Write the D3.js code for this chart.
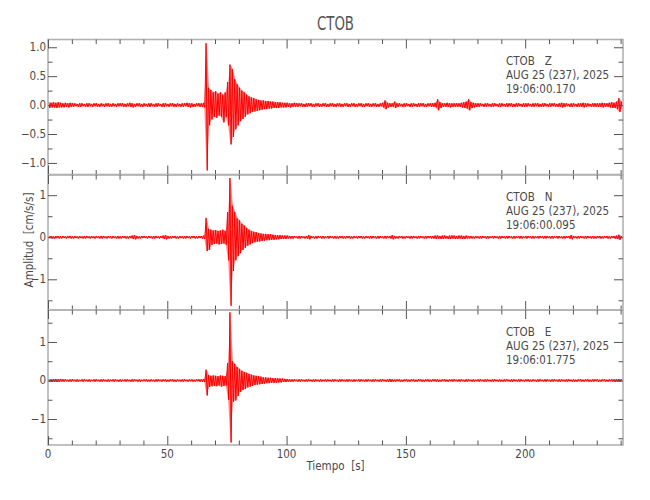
<!DOCTYPE html>
<html>
<head>
<meta charset="utf-8">
<style>
  body { margin: 0; background: #fff; }
  svg text { font-family: "DejaVu Sans Condensed", "DejaVu Sans", sans-serif; font-stretch: condensed; fill: #4a4a4a; white-space: pre; }
</style>
<title>CTOB</title>
</head>
<body>
<script src="https://cdn.jsdelivr.net/npm/d3@7"></script>
<script>

// ===== data (per-second max / min envelope, cm/s/s) =====
const components = ["CTOB   Z", "CTOB   N", "CTOB   E"];
const dateLabel = "AUG 25 (237), 2025";
const startTimes = ["19:06:00.170", "19:06:00.095", "19:06:01.775"];
const xTicks = [0, 50, 100, 150, 200];
const xDomain = [0, 241];
const yDomains = [[-1.2, 1.134], [-1.73, 1.48], [-1.675, 1.83]];
const yTicks = [[-1, -0.5, 0, 0.5, 1], [-1, 0, 1], [-1, 0, 1]];
const yMinorTicks = [[-0.75, -0.25, 0.25, 0.75], [-1.5, -0.5, 0.5], [-1.5, -0.5, 0.5, 1.5]];
const yFormats = [".1f", "d", "d"];

const zHigh = [
  .05,.04,.05,.04,.05,.04,.03,.04,.03,.04, .03,.03,.02,.03,.03,.02,.03,.03,.02,.03,
  .03,.02,.03,.02,.03,.03,.02,.03,.02,.03, .03,.03,.02,.03,.04,.03,.02,.03,.03,.02,
  .03,.02,.03,.03,.02,.03,.03,.02,.03,.03, .02,.03,.03,.02,.03,.02,.03,.03,.04,.03,
  .03,.02,.03,.03,.03,.04,1.07,.30,.26,.22, .24,.20,.22,.18,.22,.40,.70,.62,.45,.36,
  .30,.25,.22,.18,.15,.13,.12,.10,.09,.08, .08,.07,.07,.06,.06,.05,.05,.05,.04,.04,
  .04,.03,.03,.04,.03,.03,.03,.02,.03,.03, .03,.02,.03,.03,.02,.03,.03,.02,.03,.03,
  .02,.03,.03,.02,.03,.03,.02,.03,.03,.02, .03,.03,.02,.03,.03,.02,.03,.03,.02,.03,
  .04,.08,.04,.03,.03,.06,.03,.03,.02,.03, .03,.02,.03,.03,.02,.03,.03,.03,.02,.03,
  .03,.03,.04,.10,.05,.03,.03,.04,.03,.03, .03,.03,.03,.04,.05,.06,.10,.05,.04,.03,
  .03,.03,.02,.03,.03,.02,.03,.03,.02,.03, .03,.02,.03,.03,.03,.02,.03,.03,.02,.03,
  .03,.03,.02,.03,.03,.03,.02,.03,.03,.02, .03,.03,.03,.02,.03,.04,.03,.03,.02,.03,
  .03,.02,.03,.03,.04,.03,.03,.02,.03,.03, .03,.03,.04,.03,.03,.04,.05,.04,.06,.12,
  .06];
const zLow = [
  -.05,-.04,-.04,-.05,-.04,-.04,-.04,-.03,-.04,-.03, -.03,-.02,-.03,-.03,-.02,-.03,-.03,-.02,-.03,-.02,
  -.03,-.03,-.02,-.03,-.02,-.03,-.03,-.02,-.03,-.02, -.02,-.03,-.03,-.02,-.03,-.04,-.03,-.02,-.03,-.03,
  -.02,-.03,-.03,-.02,-.03,-.03,-.02,-.03,-.03,-.02, -.03,-.02,-.03,-.03,-.02,-.03,-.03,-.02,-.03,-.04,
  -.03,-.03,-.02,-.03,-.03,-.04,-1.13,-.35,-.25,-.20, -.22,-.18,-.20,-.30,-.20,-.35,-.68,-.55,-.42,-.35,
  -.28,-.24,-.20,-.16,-.14,-.12,-.11,-.10,-.09,-.08, -.07,-.07,-.06,-.06,-.05,-.05,-.05,-.04,-.04,-.04,
  -.03,-.04,-.03,-.03,-.03,-.02,-.03,-.03,-.03,-.02, -.03,-.03,-.02,-.03,-.03,-.02,-.03,-.03,-.02,-.03,
  -.03,-.02,-.03,-.03,-.02,-.03,-.03,-.02,-.03,-.03, -.02,-.03,-.03,-.02,-.03,-.03,-.02,-.03,-.03,-.02,
  -.04,-.07,-.04,-.03,-.03,-.05,-.03,-.02,-.03,-.03, -.02,-.03,-.03,-.02,-.03,-.03,-.02,-.03,-.03,-.02,
  -.03,-.03,-.04,-.09,-.05,-.03,-.03,-.03,-.04,-.03, -.03,-.03,-.03,-.04,-.05,-.06,-.09,-.05,-.04,-.03,
  -.03,-.02,-.03,-.03,-.02,-.03,-.03,-.02,-.03,-.03, -.02,-.03,-.03,-.02,-.03,-.03,-.03,-.02,-.03,-.03,
  -.03,-.02,-.03,-.03,-.02,-.03,-.03,-.03,-.02,-.03, -.03,-.02,-.03,-.03,-.03,-.04,-.03,-.02,-.03,-.03,
  -.02,-.03,-.03,-.03,-.04,-.03,-.02,-.03,-.03,-.03, -.03,-.03,-.04,-.03,-.03,-.04,-.05,-.05,-.07,-.12,
  -.06];

const nHigh = [
  .03,.03,.02,.03,.03,.02,.03,.02,.03,.03, .02,.03,.02,.03,.02,.03,.03,.02,.03,.02,
  .03,.02,.03,.03,.02,.03,.02,.03,.02,.03, .02,.03,.03,.02,.03,.04,.05,.03,.02,.03,
  .03,.02,.03,.02,.03,.03,.02,.03,.04,.05, .03,.02,.03,.03,.02,.03,.02,.03,.03,.02,
  .03,.03,.02,.03,.03,.04,.46,.20,.18,.16, .17,.15,.16,.18,.15,.60,1.41,.75,.60,.45,
  .40,.32,.28,.22,.18,.15,.13,.12,.10,.09, .08,.08,.07,.07,.06,.05,.05,.05,.04,.04,
  .04,.03,.03,.03,.02,.03,.03,.02,.03,.05, .03,.02,.03,.03,.02,.03,.02,.03,.03,.02,
  .03,.02,.03,.03,.02,.03,.03,.02,.03,.02, .03,.03,.02,.03,.02,.03,.03,.02,.03,.03,
  .02,.03,.03,.03,.05,.03,.02,.03,.03,.02, .03,.02,.03,.03,.02,.03,.03,.02,.03,.03,
  .03,.03,.04,.04,.03,.04,.04,.03,.04,.04, .04,.03,.04,.04,.03,.04,.03,.03,.02,.03,
  .02,.03,.03,.02,.03,.02,.03,.03,.02,.03, .03,.02,.03,.03,.02,.03,.02,.03,.03,.02,
  .03,.03,.02,.03,.02,.03,.03,.02,.03,.03, .02,.03,.02,.03,.03,.02,.03,.03,.03,.05,
  .03,.02,.03,.03,.02,.03,.03,.02,.03,.02, .03,.03,.02,.03,.03,.02,.03,.03,.04,.06,
  .03];
const nLow = [
  -.02,-.03,-.03,-.02,-.03,-.03,-.02,-.03,-.02,-.03, -.03,-.02,-.03,-.02,-.03,-.03,-.02,-.03,-.02,-.03,
  -.02,-.03,-.03,-.02,-.03,-.02,-.03,-.02,-.03,-.03, -.03,-.02,-.03,-.03,-.02,-.04,-.05,-.03,-.03,-.02,
  -.02,-.03,-.02,-.03,-.03,-.02,-.03,-.02,-.04,-.05, -.03,-.03,-.02,-.03,-.03,-.02,-.03,-.03,-.02,-.03,
  -.02,-.03,-.03,-.02,-.03,-.04,-.33,-.30,-.18,-.16, -.15,-.17,-.16,-.15,-.18,-.55,-1.63,-.80,-.55,-.45,
  -.38,-.30,-.25,-.20,-.17,-.14,-.12,-.11,-.10,-.09, -.08,-.07,-.07,-.06,-.06,-.05,-.05,-.04,-.04,-.04,
  -.03,-.03,-.03,-.02,-.03,-.03,-.02,-.03,-.03,-.05, -.02,-.03,-.03,-.02,-.03,-.03,-.02,-.03,-.02,-.03,
  -.03,-.03,-.02,-.03,-.03,-.02,-.03,-.03,-.02,-.03, -.02,-.03,-.03,-.02,-.03,-.03,-.02,-.03,-.03,-.02,
  -.03,-.03,-.02,-.03,-.05,-.03,-.03,-.02,-.03,-.03, -.02,-.03,-.03,-.02,-.03,-.03,-.02,-.03,-.03,-.02,
  -.03,-.03,-.04,-.03,-.04,-.04,-.03,-.04,-.04,-.03, -.04,-.04,-.03,-.04,-.04,-.03,-.03,-.03,-.03,-.02,
  -.03,-.03,-.02,-.03,-.03,-.02,-.03,-.02,-.03,-.03, -.02,-.03,-.03,-.02,-.03,-.03,-.02,-.03,-.03,-.02,
  -.03,-.02,-.03,-.03,-.02,-.03,-.02,-.03,-.03,-.02, -.03,-.03,-.02,-.03,-.02,-.03,-.03,-.02,-.03,-.05,
  -.02,-.03,-.03,-.02,-.03,-.03,-.02,-.03,-.03,-.03, -.02,-.03,-.03,-.02,-.03,-.03,-.02,-.03,-.04,-.06,
  -.03];

const eHigh = [
  .04,.03,.04,.04,.03,.04,.03,.03,.02,.03, .03,.02,.03,.02,.03,.03,.02,.03,.02,.03,
  .03,.02,.03,.03,.02,.03,.02,.03,.03,.02, .03,.02,.03,.03,.02,.03,.03,.02,.03,.02,
  .03,.03,.02,.03,.02,.03,.03,.02,.03,.03, .02,.03,.03,.02,.03,.02,.03,.03,.02,.03,
  .03,.02,.03,.03,.03,.04,.28,.14,.12,.13, .12,.11,.13,.12,.11,.45,1.77,.50,.43,.35,
  .30,.25,.22,.20,.17,.15,.13,.12,.11,.10, .08,.08,.07,.07,.06,.06,.06,.05,.05,.04,
  .04,.03,.03,.03,.02,.03,.03,.02,.03,.03, .02,.03,.03,.02,.03,.02,.03,.03,.02,.03,
  .03,.02,.03,.03,.02,.03,.03,.02,.03,.02, .03,.03,.02,.03,.03,.02,.03,.03,.02,.03,
  .03,.02,.03,.04,.03,.02,.03,.03,.02,.03, .03,.02,.03,.03,.02,.03,.03,.02,.03,.03,
  .02,.03,.03,.03,.02,.03,.03,.02,.03,.03, .03,.02,.03,.03,.02,.03,.03,.02,.03,.02,
  .03,.03,.02,.03,.03,.02,.03,.03,.02,.03, .02,.03,.03,.02,.03,.03,.02,.03,.03,.02,
  .03,.03,.02,.03,.02,.03,.03,.02,.03,.03, .02,.03,.03,.02,.03,.03,.02,.03,.03,.02,
  .03,.02,.03,.03,.02,.03,.03,.02,.03,.03, .03,.02,.03,.03,.02,.03,.03,.03,.03,.04,
  .03];
const eLow = [
  -.04,-.04,-.03,-.04,-.04,-.03,-.03,-.02,-.03,-.03, -.02,-.03,-.03,-.02,-.03,-.02,-.03,-.03,-.02,-.03,
  -.02,-.03,-.03,-.02,-.03,-.03,-.02,-.03,-.02,-.03, -.03,-.02,-.03,-.02,-.03,-.03,-.02,-.03,-.03,-.02,
  -.02,-.03,-.03,-.02,-.03,-.03,-.02,-.03,-.02,-.03, -.03,-.02,-.03,-.03,-.02,-.03,-.03,-.02,-.03,-.02,
  -.03,-.03,-.02,-.03,-.03,-.04,-.39,-.17,-.15,-.14, -.15,-.13,-.16,-.14,-.13,-.50,-1.61,-.55,-.52,-.40,
  -.30,-.25,-.22,-.18,-.16,-.14,-.12,-.11,-.10,-.09, -.08,-.07,-.07,-.06,-.06,-.06,-.05,-.05,-.04,-.04,
  -.03,-.03,-.03,-.02,-.03,-.03,-.02,-.03,-.03,-.02, -.03,-.03,-.02,-.03,-.03,-.02,-.03,-.02,-.03,-.03,
  -.02,-.03,-.03,-.02,-.03,-.03,-.02,-.03,-.03,-.02, -.03,-.02,-.03,-.03,-.02,-.03,-.03,-.02,-.03,-.03,
  -.02,-.03,-.03,-.04,-.03,-.03,-.02,-.03,-.03,-.02, -.03,-.03,-.02,-.03,-.03,-.02,-.03,-.03,-.02,-.03,
  -.03,-.02,-.03,-.03,-.03,-.02,-.03,-.03,-.02,-.03, -.02,-.03,-.03,-.02,-.03,-.03,-.02,-.03,-.03,-.02,
  -.03,-.02,-.03,-.03,-.02,-.03,-.03,-.02,-.03,-.03, -.03,-.03,-.02,-.03,-.03,-.02,-.03,-.03,-.02,-.03,
  -.02,-.03,-.03,-.02,-.03,-.03,-.02,-.03,-.03,-.02, -.03,-.03,-.02,-.03,-.03,-.02,-.03,-.03,-.02,-.03,
  -.03,-.03,-.02,-.03,-.03,-.02,-.03,-.03,-.03,-.02, -.03,-.03,-.02,-.03,-.03,-.02,-.03,-.03,-.03,-.04,
  -.03];

const highs = [zHigh, nHigh, eHigh];
const lows = [zLow, nLow, eLow];

/*========== layout ==========*/
const width = 650, height = 500;
const plotLeft = 48, plotRight = 623;
const panelTops = [39.5, 175, 310];
const panelHeight = 135;
const frameColor = "#b2b2b2";
const tickColor = "#555";

var svg = d3.select("body").append("svg")
    .attr("width", width)
    .attr("height", height);

var x = d3.scaleLinear().domain(xDomain).range([plotLeft, plotRight]);
var xMinor = d3.range(10, 241, 10).filter(d => xTicks.indexOf(d) == -1);

// title
svg.append("text")
    .attr("x", (plotLeft + plotRight) / 2)
    .attr("y", 30)
    .attr("text-anchor", "middle")
    .attr("textLength", 37)
    .attr("lengthAdjust", "spacingAndGlyphs")
    .style("font-size", "19px")
    .style("fill", "#555")
  .text("CTOB");

for (let p = 0; p < 3; p++) {
  const top = panelTops[p], bottom = top + panelHeight;
  const y = d3.scaleLinear().domain(yDomains[p]).range([bottom, top]);
  const g = svg.append("g");

  g.append("clipPath").attr("id", "clip" + p)
    .append("rect")
      .attr("x", plotLeft).attr("y", top)
      .attr("width", plotRight - plotLeft).attr("height", panelHeight);

  const trace = g.append("g").attr("clip-path", "url(#clip" + p + ")");

  // envelope between per-second min and max, pale
  const pts = highs[p].map((v, i) => ({t: i + 0.5, hi: v, lo: lows[p][i]}));
  const area = d3.area()
      .x(d => x(d.t))
      .y0(d => y(d.lo))
      .y1(d => y(d.hi));
  trace.append("path")
      .attr("d", area(pts))
      .attr("fill", "#ff0000")
      .attr("fill-opacity", 0.45);

  // the trace itself: within each second swing to the max then to the min
  const swing = [];
  highs[p].forEach(function(v, i) {
    swing.push([i + 0.25, v]);
    swing.push([i + 0.75, lows[p][i]]);
  });
  const line = d3.line().x(d => x(d[0])).y(d => y(d[1]));
  trace.append("path")
      .attr("d", line(swing))
      .attr("fill", "none")
      .attr("stroke", "#ff0000")
      .attr("stroke-width", 1);

  // frame
  g.append("rect")
      .attr("x", plotLeft).attr("y", top)
      .attr("width", plotRight - plotLeft).attr("height", panelHeight)
      .attr("fill", "none")
      .attr("stroke", frameColor)
      .attr("stroke-width", 1.6);

  // ticks, all pointing inward
  const tickSets = [
    [d3.axisBottom(x).tickValues(xTicks).tickSize(-9), `translate(0,${bottom})`],
    [d3.axisBottom(x).tickValues(xMinor).tickSize(-4.5), `translate(0,${bottom})`],
    [d3.axisTop(x).tickValues(xTicks).tickSize(-9), `translate(0,${top})`],
    [d3.axisTop(x).tickValues(xMinor).tickSize(-4.5), `translate(0,${top})`],
    [d3.axisLeft(y).tickValues(yTicks[p]).tickSize(-9), `translate(${plotLeft},0)`],
    [d3.axisLeft(y).tickValues(yMinorTicks[p]).tickSize(-4.5), `translate(${plotLeft},0)`],
    [d3.axisRight(y).tickValues(yTicks[p]).tickSize(-9), `translate(${plotRight},0)`],
    [d3.axisRight(y).tickValues(yMinorTicks[p]).tickSize(-4.5), `translate(${plotRight},0)`]
  ];
  tickSets.forEach(function(s) {
    const a = g.append("g").attr("transform", s[1])
        .call(s[0].tickSizeOuter(0).tickFormat(""));
    a.select(".domain").remove();
    a.selectAll("line").attr("stroke", tickColor).attr("stroke-width", 1);
  });

  // y tick labels
  const fmt = d3.format(yFormats[p]);
  g.selectAll(".ylab").data(yTicks[p]).enter().append("text")
      .attr("x", plotLeft - 2)
      .attr("y", d => y(d) + 4)
      .attr("text-anchor", "end")
      .style("font-size", "11.5px")
    .text(d => fmt(d));

  // x tick labels on the bottom panel only
  if (p == 2) {
    g.selectAll(".xlab").data(xTicks).enter().append("text")
        .attr("x", d => x(d))
        .attr("y", bottom + 13)
        .attr("text-anchor", "middle")
        .style("font-size", "11.5px")
      .text(d => d);
  }

  // station / date / start time block
  [components[p], dateLabel, startTimes[p]].forEach(function(t, k) {
    g.append("text")
        .attr("x", 506)
        .attr("y", top + 25.5 + 14 * k)
        .style("font-size", "11.5px")
      .text(t);
  });
}

// axis titles
svg.append("text")
    .attr("x", (plotLeft + plotRight) / 2)
    .attr("y", 470)
    .attr("text-anchor", "middle")
    .style("font-size", "11.5px")
  .text("Tiempo  [s]");

svg.append("text")
    .attr("transform", "translate(33,240) rotate(-90)")
    .attr("text-anchor", "middle")
    .style("font-size", "11.5px")
  .text("Amplitud  [cm/s/s]");

</script>
</body>
</html>
